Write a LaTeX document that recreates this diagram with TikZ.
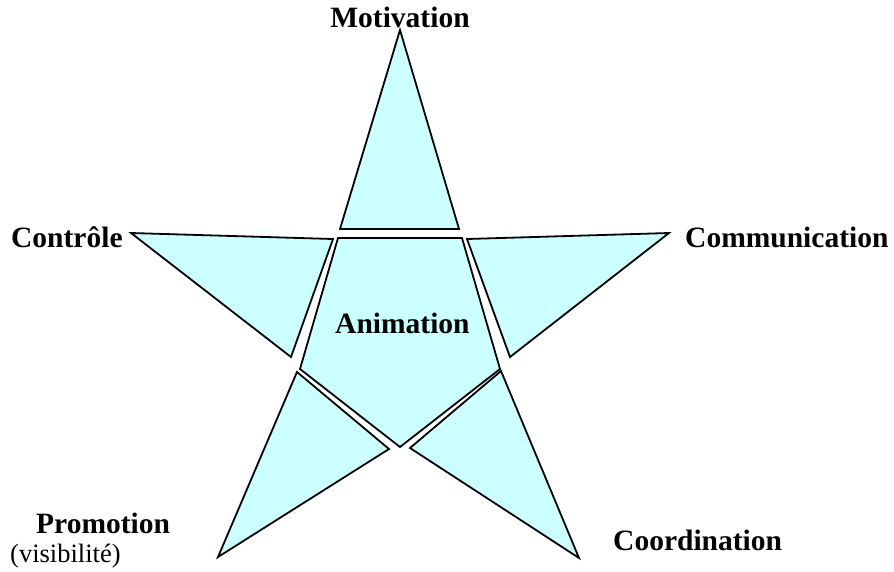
\documentclass[tikz,border=0pt]{standalone}
\usepackage{fontspec}
\setmainfont{Liberation Serif}
\begin{document}
\begin{tikzpicture}[x=1pt,y=-1pt,
  piece/.style={draw=black,fill=starfill,line width=1.8pt,line join=miter},
  lbl/.style={inner sep=0pt,anchor=base west,font=\fontsize{29.5}{34}\selectfont\bfseries},
  sublbl/.style={inner sep=0pt,anchor=base west,font=\fontsize{26.5}{30}\selectfont}]
\definecolor{starfill}{HTML}{CCFFFF}
\useasboundingbox (0,0) rectangle (894,571);
% top point
\filldraw[piece] (400,30) -- (459,229) -- (340,229) -- cycle;
% centre pentagon
\filldraw[piece] (338,238) -- (462,238) -- (500,369) -- (400,447) -- (300,369) -- cycle;
% left point
\filldraw[piece] (131,233) -- (333,239) -- (291,357) -- cycle;
% right point
\filldraw[piece] (669,233) -- (467,239) -- (510,357) -- cycle;
% bottom-left point
\filldraw[piece] (297,372) -- (389,449) -- (218,557) -- cycle;
% bottom-right point
\filldraw[piece] (501,371) -- (579,558) -- (410,448) -- cycle;
% labels
\node[lbl,anchor=base] (mot) at (400,27) {Motivation};
\node[lbl] (con) at (11,247) {Contrôle};
\node[lbl] (com) at (685,247) {Communication};
\node[lbl] (ani) at (335,333) {Animation};
\node[lbl] (pro) at (36,533) {Promotion};
\node[sublbl] (vis) at (10,562) {(visibilité)};
\node[lbl] (coo) at (613,550) {Coordination};
\end{tikzpicture}
\end{document}
